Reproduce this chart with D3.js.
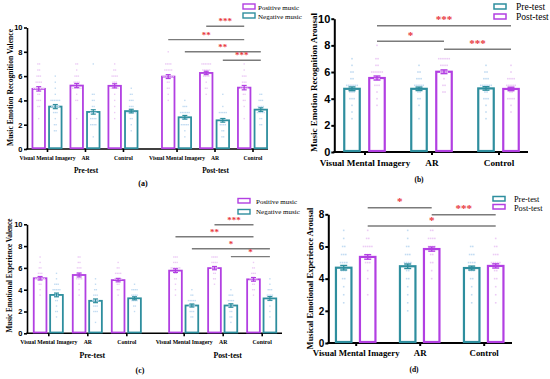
<!DOCTYPE html>
<html><head><meta charset="utf-8">
<script src="https://cdn.jsdelivr.net/npm/d3@7"></script>
<style>body{margin:0;background:#fff}svg{display:block}</style>
</head><body>
<svg id="chart" width="550" height="379"></svg>
<script>
// ---------------- DATA ----------------
const groupLabels = ["Visual Mental Imagery", "AR", "Control"];
const phaseLabels = ["Pre-test", "Post-test"];
const valenceLegend = ["Positive music", "Negative music"];
const arousalLegend = ["Pre-test", "Post-test"];
const yTicksTen = [0, 2, 4, 6, 8, 10];
const yTicksEight = [0, 2, 4, 6, 8];

// (a) Music Emotion Recognition Valence — order: Pre VMI, Pre AR, Pre Control, Post VMI, Post AR, Post Control
const aPositiveMeans = [4.95, 5.22, 5.20, 5.96, 6.26, 5.05];
const aNegativeMeans = [3.49, 3.05, 3.12, 2.61, 2.36, 3.24];
const aPositiveSEM = [0.18, 0.17, 0.17, 0.16, 0.14, 0.18];
const aNegativeSEM = [0.17, 0.18, 0.15, 0.15, 0.15, 0.15];
const aPositiveDots = [
  [2.5,3.5,3.5,4,4,4,4.5,4.5,5,5,5,5,5,5,5,5.5,5.5,5.5,5.5,6,6,6,6.5,6.5,7,7],
  [2.5,4,4,4.5,5,5,5,5,5,5,5.5,5.5,5.5,5.5,6,6,6,6.5,7,7],
  [2.5,3,3.5,4,4.5,5,5,5,5,5,5.5,5.5,5.5,6,6,6,6,6.5,6.5,7],
  [4,4.5,5,5,5.5,5.5,6,6,6,6,6,6,6,6.5,6.5,6.5,6.5,6.5,7,7,7,7,8],
  [4.5,5,5,5.5,6,6,6,6,6.5,6.5,6.5,6.5,6.5,7,7,7,7,7,7],
  [2.5,3.5,4,4,4.5,4.5,5,5,5,5,5,5.5,5.5,5.5,6,6,6,6.5,7]
];
const aNegativeDots = [
  [1.5,1.5,2,2,2.5,3,3,3,3.5,3.5,3.5,3.5,3.5,4,4,4,4,4,4,4.5,5,5.5,6],
  [1,2,2,2,2,2.5,2.5,2.5,2.5,3,3,3,3,3.5,3.5,4,4,4.5,4.5,7],
  [1.5,2,2.5,2.5,3,3,3,3,3,3,3.5,3.5,3.5,4,4,4,4.5,4.5,5],
  [1,1.5,2,2,2,2,2,2.5,2.5,2.5,2.5,3,3,3,3,3,3,3.5,3.5,3.5,4],
  [1,1,1.5,1.5,2,2,2,2,2.5,2.5,2.5,2.5,3,3,3,3,3,3.5,4.5],
  [2,2,2.5,2.5,3,3,3,3,3,3.5,3.5,3.5,3.5,4,4,4,4.5,4.5]
];
// comparisons: [cluster, series] -> [cluster, series], bracket level (value units), label
const aSignificance = [
  {from: [4, 0], to: [5, 0], level: 10.1, label: "***"},
  {from: [3, 0], to: [5, 0], level: 9.0, label: "**"},
  {from: [3, 1], to: [5, 1], level: 8.0, label: "**"},
  {from: [4, 1], to: [5, 1], level: 7.3, label: "***"}
];

// (b) Music Emotion Recognition Arousal — order: VMI, AR, Control
const bPreMeans = [4.74, 4.74, 4.77];
const bPostMeans = [5.55, 6.02, 4.73];
const bPreSEM = [0.14, 0.13, 0.13];
const bPostSEM = [0.15, 0.14, 0.13];
const bPreDots = [
  [2.5,3,3.5,4,4,4,4.5,4.5,4.5,5,5,5,5,5,5,5.5,5.5,6,6,6.5,7],
  [2.5,3.5,4,4,4.5,4.5,5,5,5,5,5,5.5,5.5,5.5,6,6,6.5],
  [2.5,3,3.5,4,4,4,4.5,4.5,5,5,5,5,5,5,5.5,5.5,5.5,6,6,6.5]
];
const bPostDots = [
  [3.5,4,4.5,5,5,5,5.5,5.5,5.5,6,6,6,6,6,6,6.5,6.5,7,7,8],
  [4.5,4.5,5,5,5.5,6,6,6,6,6.5,6.5,6.5,6.5,7,7,7,7,7,7],
  [3,3.5,4,4,4,4,4.5,4.5,5,5,5,5,5,5.5,5.5,5.5,5.5,6,6.5]
];
const bSignificance = [
  {from: [0, 1], to: [2, 1], level: 9.47, label: "***"},
  {from: [0, 1], to: [1, 1], level: 8.3, label: "*"},
  {from: [1, 1], to: [2, 1], level: 7.7, label: "***"}
];

// (c) Music Emotional Experience Valence
const cPositiveMeans = [5.05, 5.35, 4.88, 5.75, 5.98, 4.95];
const cNegativeMeans = [3.52, 2.98, 3.21, 2.55, 2.55, 3.20];
const cPositiveSEM = [0.16, 0.18, 0.16, 0.17, 0.15, 0.17];
const cNegativeSEM = [0.17, 0.17, 0.14, 0.14, 0.16, 0.17];
const cPositiveDots = [
  [3.5,4,4.5,4.5,5,5,5,5,5,5,5.5,5.5,5.5,6,6,6.5,7],
  [3.5,4,4.5,5,5,5,5,5.5,5.5,5.5,6,6,6,6.5,6.5,7,7],
  [3.5,4,4,4.5,4.5,5,5,5,5,5,5.5,5.5,5.5,5.5,6,6,6.5],
  [3.5,4,4.5,5,5,5.5,5.5,6,6,6,6,6,6,6.5,6.5,6.5,7,7,7],
  [4.5,5,5,5.5,5.5,6,6,6,6,6.5,6.5,6.5,6.5,7,7,7,7],
  [3.5,4,4,4.5,4.5,5,5,5,5,5,5.5,5.5,5.5,6,6,6.5]
];
const cNegativeDots = [
  [1.5,2,2,2.5,3,3,3.5,3.5,4,4,4,4,4,4.5,4.5,4.5,5,5.5],
  [1,2,2,2,2.5,2.5,2.5,3,3,3,3,3.5,3.5,3.5,4,4,4.5,5],
  [2,2.5,2.5,3,3,3,3,3.5,3.5,3.5,3.5,4,4,4,4,4.5],
  [1.5,1.5,2,2,2,2.5,2.5,2.5,2.5,3,3,3,3,3,3.5,3.5,4],
  [1,1.5,1.5,2,2,2.5,2.5,2.5,3,3,3,3,3.5,3.5,3.5,4],
  [1.5,2,2.5,3,3,3,3.5,3.5,3.5,3.5,4,4,4,4.5,5]
];
const cSignificance = [
  {from: [4, 0], to: [5, 0], level: 9.96, label: "***"},
  {from: [3, 0], to: [5, 0], level: 8.86, label: "**"},
  {from: [3, 1], to: [5, 1], level: 7.76, label: "*"},
  {from: [4, 1], to: [5, 1], level: 7.03, label: "*"}
];

// (d) Musical Emotional Experience Arousal
const dPreMeans = [4.68, 4.77, 4.66];
const dPostMeans = [5.35, 5.84, 4.79];
const dPreSEM = [0.14, 0.14, 0.12];
const dPostSEM = [0.14, 0.13, 0.13];
const dPreDots = [
  [2.5,3,3.5,4,4,4.5,4.5,4.5,5,5,5,5,5.5,5.5,5.5,6,6,6.5,7],
  [2,2.5,3,3.5,4,4,4.5,4.5,5,5,5,5,5.5,5.5,5.5,6,6,6.5,7],
  [2.5,3,3.5,4,4,4.5,4.5,4.5,5,5,5,5,5.5,5.5,5.5,6,6]
];
const dPostDots = [
  [3,4,4.5,5,5,5,5.5,5.5,5.5,6,6,6,6,6,6.5,6.5,7],
  [4,4.5,5,5,5.5,5.5,6,6,6,6,6.5,6.5,6.5,6.5,7,7],
  [2.5,3,3.5,4,4,4.5,4.5,5,5,5,5,5,5.5,5.5,5.5,6,6,6.5]
];
const dSignificance = [
  {from: [0, 1], to: [1, 1], level: 8.41, label: "*"},
  {from: [1, 1], to: [2, 1], level: 7.97, label: "***"},
  {from: [0, 1], to: [2, 1], level: 7.27, label: "*"}
];

// ---------------- STYLE ----------------
const PURPLE = "#b23fe2", TEAL = "#2e8e9e";
const DOT_PURPLE = "#ecccf5", DOT_TEAL = "#c3dcf2";
const STAR = "#e8373d", BRACKET = "#7b7b7b";
const SERIF = "'Liberation Serif','Times New Roman',serif";
const SANS = "'Liberation Sans',Arial,sans-serif";

const svg = d3.select("#chart");

function drawPanel(p) {
  const g = svg.append("g");
  const y = d3.scaleLinear().domain([0, p.yMax]).range([p.yBase, p.yTop]);
  const xs = d3.scaleLinear().domain([p.slots[0], p.slots[p.slots.length - 1]]).range(p.slotRange);
  const cx = i => xs(p.slots[i]);
  const bx = (i, s) => cx(i) + (s === 0 ? -p.barOff : p.barOff);

  // y axis
  const ya = g.append("g").attr("transform", `translate(${p.x0},0)`)
    .call(d3.axisLeft(y).tickValues(p.yTicks).tickSize(p.tick).tickSizeOuter(0).tickPadding(p.tickPad));
  ya.select(".domain").attr("stroke", "#000").attr("stroke-width", p.axW);
  ya.selectAll(".tick line").attr("stroke", "#000").attr("stroke-width", p.axW);
  ya.selectAll(".tick text").attr("font-family", SANS).attr("font-weight", "bold")
    .attr("font-size", p.tickFont).attr("fill", "#000");

  // x axis
  const xa = g.append("g").attr("transform", `translate(0,${p.yBase})`)
    .call(d3.axisBottom(xs).tickValues(p.slots).tickSize(p.tick).tickSizeOuter(0)
      .tickFormat((d, i) => p.catLabels[i]));
  xa.select(".domain").remove();
  xa.selectAll(".tick line").attr("stroke", "#000").attr("stroke-width", p.axW);
  xa.selectAll(".tick text").attr("font-family", SERIF).attr("font-weight", "bold")
    .attr("font-size", p.catFont).attr("fill", "#000").attr("dy", null).attr("y", p.catY - p.yBase);
  g.append("line").attr("x1", p.x0 - p.axW / 2).attr("x2", p.x1).attr("y1", p.yBase).attr("y2", p.yBase)
    .attr("stroke", "#000").attr("stroke-width", p.axW);

  // bars
  const bars = [];
  p.catLabels.forEach((_, i) => [0, 1].forEach(s => bars.push({
    i, s, mean: p.means[s][i], sem: p.sems[s][i], dots: p.dots[s][i]
  })));
  g.selectAll("rect.bar").data(bars).join("rect").attr("class", "bar")
    .attr("x", d => bx(d.i, d.s) - p.barW / 2).attr("width", p.barW)
    .attr("y", d => y(d.mean)).attr("height", d => p.yBase - y(d.mean) - p.axW / 2)
    .attr("fill", "#fff").attr("stroke", d => p.colors[d.s]).attr("stroke-width", p.barSW);

  // dots
  bars.forEach(b => {
    const rows = d3.rollups(b.dots, v => v.length, v => v);
    rows.forEach(([val, n]) => {
      d3.range(n).forEach(k => {
        g.append("rect")
          .attr("x", bx(b.i, b.s) + (k - (n - 1) / 2) * p.dotGap - p.dotR)
          .attr("y", y(val) - p.dotR)
          .attr("width", p.dotR * 2).attr("height", p.dotR * 2)
          .attr("fill", p.dotColors[b.s]);
      });
    });
  });

  // error bars
  bars.forEach(b => {
    const x = bx(b.i, b.s), c = p.colors[b.s];
    g.append("line").attr("x1", x).attr("x2", x).attr("y1", y(b.mean - b.sem)).attr("y2", y(b.mean + b.sem))
      .attr("stroke", c).attr("stroke-width", p.errW);
    [b.mean - b.sem, b.mean + b.sem].forEach(v => g.append("line")
      .attr("x1", x - p.capW / 2).attr("x2", x + p.capW / 2).attr("y1", y(v)).attr("y2", y(v))
      .attr("stroke", c).attr("stroke-width", p.errW));
  });

  // significance brackets
  p.sig.forEach(s => {
    const xa1 = bx(s.from[0], s.from[1]), xa2 = bx(s.to[0], s.to[1]);
    g.append("line").attr("x1", xa1).attr("x2", xa2).attr("y1", y(s.level)).attr("y2", y(s.level))
      .attr("stroke", BRACKET).attr("stroke-width", p.brW);
    g.append("text").attr("x", (xa1 + xa2) / 2).attr("y", y(s.level) - p.starLift)
      .attr("text-anchor", "middle").attr("font-family", SERIF).attr("font-weight", "bold")
      .attr("font-size", p.starFont).attr("fill", STAR).text(s.label);
  });

  // y label
  g.append("text").attr("transform", `translate(${p.ylabX},${p.ylabY}) rotate(-90)`)
    .attr("text-anchor", "middle").attr("font-family", SERIF).attr("font-weight", "bold")
    .attr("font-size", p.ylabFont).attr("fill", "#000").text(p.ylabel);

  // phase labels
  if (p.phaseY) {
    phaseLabels.forEach((t, k) => g.append("text").attr("x", cx(k * 3 + 1) + p.phaseDx).attr("y", p.phaseY)
      .attr("text-anchor", "middle").attr("font-family", SERIF).attr("font-weight", "bold")
      .attr("font-size", p.phaseFont).attr("fill", "#000").text(t));
  }
  // panel letter
  g.append("text").attr("x", p.letterX).attr("y", p.letterY).attr("text-anchor", "middle")
    .attr("font-family", SERIF).attr("font-weight", "bold").attr("font-size", p.letterFont)
    .attr("fill", "#000").text(p.letter);

  // legend
  p.legendLabels.forEach((t, k) => {
    g.append("rect").attr("x", p.leg.x).attr("y", p.leg.ys[k]).attr("width", p.leg.w).attr("height", p.leg.h)
      .attr("fill", "#fff").attr("stroke", p.colors[p.leg.order[k]]).attr("stroke-width", p.leg.sw);
    g.append("text").attr("x", p.leg.tx).attr("y", p.leg.ty[k]).attr("font-family", SERIF)
      .attr("font-size", p.leg.font).attr("fill", "#000").text(t);
  });
}

const valenceCats = phaseLabels.flatMap(() => groupLabels);

// (a)
drawPanel({
  x0: 27, x1: 268, yBase: 149, yTop: 27.5, yMax: 10, yTicks: yTicksTen,
  slots: [0, 1, 2, 3.41, 4.41, 5.41], slotRange: [47, 252.5],
  catLabels: valenceCats, means: [aPositiveMeans, aNegativeMeans], sems: [aPositiveSEM, aNegativeSEM],
  dots: [aPositiveDots, aNegativeDots], sig: aSignificance,
  colors: [PURPLE, TEAL], dotColors: [DOT_PURPLE, DOT_TEAL],
  barOff: 8.3, barW: 12.5, barSW: 1.8, dotGap: 1.7, dotR: 0.7, errW: 1.2, capW: 5,
  tick: 3, tickPad: 1.5, axW: 1.6, tickFont: 7.5, catFont: 5.7, catY: 160,
  brW: 1.4, starFont: 9, starLift: 2,
  ylabel: "Music Emotion Recognition Valence", ylabX: 12.5, ylabY: 87.5, ylabFont: 7.6,
  phaseY: 173, phaseDx: 1, phaseFont: 7.3, letter: "(a)", letterX: 143, letterY: 186, letterFont: 8,
  legendLabels: valenceLegend,
  leg: {x: 243, ys: [4, 13], w: 12, h: 5, sw: 1.4, tx: 258, ty: [9.5, 18.5], font: 7, order: [0, 1]}
});

// (b)
drawPanel({
  x0: 334.3, x1: 528, yBase: 152, yTop: 18.7, yMax: 10, yTicks: yTicksTen,
  slots: [0, 1, 2], slotRange: [364.5, 498.5],
  catLabels: groupLabels, means: [bPreMeans, bPostMeans], sems: [bPreSEM, bPostSEM],
  dots: [bPreDots, bPostDots], sig: bSignificance,
  colors: [TEAL, PURPLE], dotColors: [DOT_TEAL, DOT_PURPLE],
  barOff: 12.5, barW: 15.5, barSW: 2.2, dotGap: 2.1, dotR: 0.8, errW: 1.4, capW: 7,
  tick: 3, tickPad: 1, axW: 2, tickFont: 11, catFont: 9.2, catY: 166,
  brW: 1.5, starFont: 11, starLift: 2.5,
  ylabel: "Music Emotion Recognition Arousal", ylabX: 316.5, ylabY: 82.5, ylabFont: 9,
  phaseY: null, letter: "(b)", letterX: 419, letterY: 182, letterFont: 7.5,
  legendLabels: arousalLegend,
  leg: {x: 494, ys: [4, 14], w: 12, h: 5, sw: 1.5, tx: 516, ty: [9.5, 19.5], font: 9.5, order: [0, 1]}
});

// (c)
drawPanel({
  x0: 27, x1: 282, yBase: 333.3, yTop: 224.3, yMax: 10, yTicks: yTicksTen,
  slots: [0, 1, 2, 3.47, 4.47, 5.47], slotRange: [48.3, 261.7],
  catLabels: valenceCats, means: [cPositiveMeans, cNegativeMeans], sems: [cPositiveSEM, cNegativeSEM],
  dots: [cPositiveDots, cNegativeDots], sig: cSignificance,
  colors: [PURPLE, TEAL], dotColors: [DOT_PURPLE, DOT_TEAL],
  barOff: 8.2, barW: 12.7, barSW: 1.8, dotGap: 1.7, dotR: 0.7, errW: 1.2, capW: 5,
  tick: 3, tickPad: 1.5, axW: 1.6, tickFont: 7.5, catFont: 5.8, catY: 344,
  brW: 1.4, starFont: 9, starLift: 2,
  ylabel: "Music Emotional Experience Valence", ylabX: 12, ylabY: 275.5, ylabFont: 7.2,
  phaseY: 358, phaseDx: 5, phaseFont: 7.8, letter: "(c)", letterX: 140, letterY: 372.5, letterFont: 8,
  legendLabels: valenceLegend,
  leg: {x: 238, ys: [198.5, 209.5], w: 12, h: 4.5, sw: 1.4, tx: 256, ty: [203.5, 214], font: 7, order: [0, 1]}
});

// (d)
drawPanel({
  x0: 328.3, x1: 512, yBase: 343, yTop: 214.3, yMax: 8, yTicks: yTicksEight,
  slots: [0, 1, 2], slotRange: [355.7, 483.7],
  catLabels: groupLabels, means: [dPreMeans, dPostMeans], sems: [dPreSEM, dPostSEM],
  dots: [dPreDots, dPostDots], sig: dSignificance,
  colors: [TEAL, PURPLE], dotColors: [DOT_TEAL, DOT_PURPLE],
  barOff: 12, barW: 15.5, barSW: 2.2, dotGap: 2.1, dotR: 0.8, errW: 1.4, capW: 7,
  tick: 3, tickPad: 1, axW: 2, tickFont: 10, catFont: 8.8, catY: 356,
  brW: 1.5, starFont: 11, starLift: 2.5,
  ylabel: "Musical Emotional Experience Arousal", ylabX: 312.5, ylabY: 278.5, ylabFont: 8.5,
  phaseY: null, letter: "(d)", letterX: 414, letterY: 372, letterFont: 7.5,
  legendLabels: arousalLegend,
  leg: {x: 493, ys: [196.5, 204.5], w: 12, h: 4.5, sw: 1.5, tx: 514, ty: [202, 210.5], font: 8.3, order: [0, 1]}
});
</script>
</body></html>
